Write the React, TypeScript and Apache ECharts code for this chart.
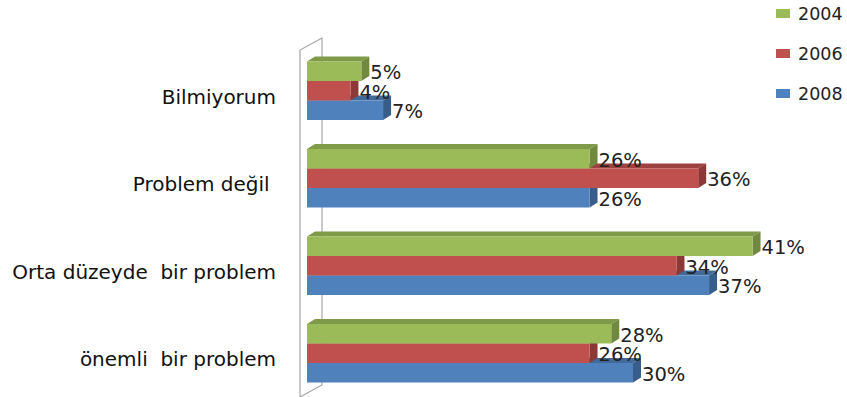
import React, { useEffect, useRef } from "react";
import * as echarts from "echarts";

const categories = ["Bilmiyorum", "Problem değil ", "Orta düzeyde  bir problem", "önemli  bir problem"];
const seriesNames = ["2004", "2006", "2008"];
const values2004 = [5, 26, 41, 28];
const values2006 = [4, 36, 34, 26];
const values2008 = [7, 26, 37, 30];

const FONT = "DejaVu Sans";

const palette = [
  { front: "#9BBB59", top: "#7F9A48", side: "#71893F" },
  { front: "#C0504D", top: "#9E413F", side: "#8C3836" },
  { front: "#4F81BD", top: "#416A9B", side: "#385D8A" },
];

function makeSeries(name: string, data: number[], idx: number) {
  const col = palette[idx];
  const offset = idx - 1;
  return {
    type: "custom",
    name,
    z: 10 - idx,
    itemStyle: { color: col.front },
    encode: { x: 0, y: 1 },
    data: data.map((v, i) => [v, i]),
    renderItem: (params: any, api: any) => {
      const v = api.value(0);
      const c = api.value(1);
      const p0 = api.coord([0, c]);
      const p1 = api.coord([v, c]);
      const band = api.size([0, 1])[1];
      const h = band * 0.222;
      const yc = p0[1] + offset * h;
      const top = yc - h / 2;
      const x0 = p0[0];
      const x1 = p1[0];
      const dx = 8;
      const dy = 5;
      return {
        type: "group",
        children: [
          {
            type: "polygon",
            shape: { points: [[x0, top], [x0 + dx, top - dy], [x1 + dx, top - dy], [x1, top]] },
            style: { fill: col.top },
          },
          {
            type: "polygon",
            shape: { points: [[x1, top], [x1 + dx, top - dy], [x1 + dx, top + h - dy], [x1, top + h]] },
            style: { fill: col.side },
          },
          {
            type: "rect",
            shape: { x: x0, y: top, width: x1 - x0, height: h },
            style: { fill: col.front },
          },
          {
            type: "text",
            style: {
              text: v + "%",
              x: x1 + dx + 1,
              y: yc + 1.5,
              verticalAlign: "middle",
              align: "left",
              fontSize: 19.5,
              fontFamily: FONT,
              fill: "#222",
            },
          },
        ],
      };
    },
  };
}

export default function App() {
  const ref = useRef<HTMLDivElement>(null);
  useEffect(() => {
    const chart = echarts.init(ref.current!, null, { renderer: "svg" });
    chart.setOption({
      animation: false,
      backgroundColor: "#ffffff",
      legend: {
        orient: "vertical",
        left: 771,
        top: -2,
        itemWidth: 14,
        itemHeight: 9,
        itemGap: 19,
        icon: "rect",
        data: seriesNames,
        textStyle: { fontFamily: FONT, fontSize: 17.5, color: "#222", lineHeight: 21, padding: [0, 0, 0, 3] },
      },
      grid: { left: 307, top: 47, width: 489, height: 350 },
      xAxis: {
        type: "value",
        min: 0,
        max: 45,
        show: false,
      },
      yAxis: {
        type: "category",
        data: categories,
        inverse: true,
        axisLine: { show: false },
        axisTick: { show: false },
        axisLabel: {
          margin: 31,
          fontFamily: FONT,
          fontSize: 20,
          color: "#111",
          verticalAlign: "top",
          lineHeight: 12,
        },
      },
      graphic: [
        {
          type: "polyline",
          shape: { points: [[300, 397], [300, 50], [322, 38], [322, 385], [300, 397]] },
          style: { stroke: "#A6A6A6", lineWidth: 1.2, fill: "none" },
          z: 1,
        },
      ],
      series: [
        makeSeries(seriesNames[0], values2004, 0),
        makeSeries(seriesNames[1], values2006, 1),
        makeSeries(seriesNames[2], values2008, 2),
      ],
    });
    return () => chart.dispose();
  }, []);
  return <div ref={ref} style={{ position: "fixed", left: 0, top: 0, width: 847, height: 397 }} />;
}
